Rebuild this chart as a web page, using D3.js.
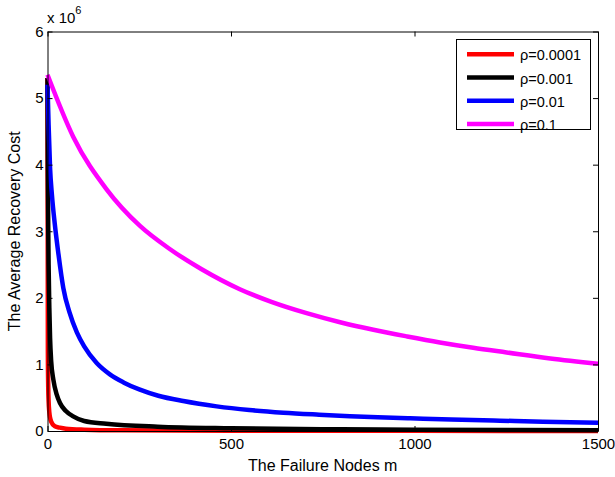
<!DOCTYPE html>
<html>
<head>
<meta charset="utf-8">
<script src="https://cdn.jsdelivr.net/npm/d3@7"></script>
<style>
  body { margin: 0; background: #fff; }
  svg { font-family: "Liberation Sans", Arial, sans-serif; }
</style>
</head>
<body>
<svg width="615" height="477"></svg>
<script>
const svg = d3.select("svg");

// data (values in units of 10^6)
const xTicks = [0, 500, 1000, 1500];
const yTicks = [0, 1, 2, 3, 4, 5, 6];
const seriesNames = ["ρ=0.0001", "ρ=0.001", "ρ=0.01", "ρ=0.1"];
const seriesColors = ["#ff0000", "#000000", "#0000ff", "#ff00ff"];

const redData = [
  [0, 5.3], [1, 1.2], [2, 0.65], [3, 0.45], [5, 0.28], [7, 0.2], [10, 0.14],
  [20, 0.07], [34, 0.05], [50, 0.035], [100, 0.02], [200, 0.01], [500, 0.004],
  [1000, 0.002], [1500, 0.0015]
];
const blackData = [
  [0, 5.3], [1, 3.9], [2, 3.05], [3, 2.5], [5, 1.85], [7, 1.4], [10, 1.05],
  [16, 0.77], [25, 0.55], [34, 0.42], [50, 0.3], [70, 0.22], [100, 0.15],
  [160, 0.11], [300, 0.065], [500, 0.04], [800, 0.025], [1000, 0.02], [1500, 0.012]
];
const blueData = [
  [0, 5.2], [3, 4.6], [7, 3.95], [12, 3.55], [20, 3.1], [30, 2.65], [43, 2.15],
  [60, 1.78], [80, 1.48], [100, 1.27], [134, 1.02], [170, 0.85], [207, 0.73],
  [250, 0.625], [302, 0.53], [370, 0.45], [461, 0.37], [550, 0.315], [643, 0.275],
  [740, 0.245], [824, 0.222], [900, 0.205], [988, 0.19], [1100, 0.172],
  [1233, 0.155], [1350, 0.14], [1500, 0.125]
];
const magentaData = [
  [0, 5.35], [70, 4.42], [161, 3.63], [252, 3.08], [334, 2.73], [420, 2.43],
  [524, 2.13], [610, 1.94], [706, 1.77], [800, 1.63], [888, 1.52], [980, 1.42],
  [1069, 1.33], [1160, 1.25], [1251, 1.18], [1370, 1.09], [1500, 1.01]
];
const allSeries = [redData, blackData, blueData, magentaData];

const plotLeft = 47.5, plotRight = 598, plotTop = 31.5, plotBottom = 431;

const xScale = d3.scaleLinear().domain([0, 1500]).range([plotLeft, plotRight]);
const yScale = d3.scaleLinear().domain([0, 6]).range([plotBottom, plotTop]);

// curves
const line = d3.line()
  .x((d) => xScale(d[0]))
  .y((d) => yScale(d[1]))
  .curve(d3.curveMonotoneX);

svg.append("g")
  .selectAll("path")
  .data(allSeries)
  .enter()
  .append("path")
  .attr("d", line)
  .attr("fill", "none")
  .attr("stroke", (d, i) => seriesColors[i])
  .attr("stroke-width", 4.5)
  .attr("stroke-linejoin", "round");

// axes, matlab style: box with inward ticks
const tickFmt = d3.format("d");
svg.append("g")
  .attr("transform", `translate(0,${plotBottom})`)
  .call(d3.axisBottom(xScale).tickValues(xTicks).tickSizeInner(-5).tickSizeOuter(0).tickPadding(7).tickFormat(tickFmt));
svg.append("g")
  .attr("transform", `translate(0,${plotTop})`)
  .call(d3.axisTop(xScale).tickValues(xTicks).tickSizeInner(-5).tickSizeOuter(0).tickFormat(""));
svg.append("g")
  .attr("transform", `translate(${plotLeft},0)`)
  .call(d3.axisLeft(yScale).tickValues(yTicks).tickSizeInner(-5).tickSizeOuter(0).tickPadding(4).tickFormat(tickFmt));
svg.append("g")
  .attr("transform", `translate(${plotRight},0)`)
  .call(d3.axisRight(yScale).tickValues(yTicks).tickSizeInner(-5).tickSizeOuter(0).tickFormat(""));

svg.selectAll(".domain").attr("stroke", "#000");
svg.selectAll(".tick line").attr("stroke", "#000");
svg.selectAll(".tick text")
  .attr("font-size", 15)
  .attr("font-family", "Liberation Sans, Arial, sans-serif")
  .attr("fill", "#000");

// exponent label
const expo = svg.append("text")
  .attr("x", 47)
  .attr("y", 23)
  .attr("font-size", 15);
expo.append("tspan").text("x 10");
expo.append("tspan").attr("dy", -9).attr("font-size", 11).text("6");

// axis titles
svg.append("text")
  .attr("x", (plotLeft + plotRight) / 2)
  .attr("y", 471)
  .attr("text-anchor", "middle")
  .attr("font-size", 16)
  .text("The Failure Nodes m");

svg.append("text")
  .attr("transform", `translate(20,${(plotTop + plotBottom) / 2}) rotate(-90)`)
  .attr("text-anchor", "middle")
  .attr("font-size", 16)
  .text("The Average Recovery Cost");

// legend
const legend = svg.append("g");
legend.append("rect")
  .attr("x", 456.5)
  .attr("y", 39.5)
  .attr("width", 134)
  .attr("height", 90)
  .attr("fill", "#fff")
  .attr("stroke", "#000");

const rows = legend.selectAll("g.row")
  .data(seriesNames)
  .enter()
  .append("g")
  .attr("transform", (d, i) => `translate(0,${54.3 + i * 23.2})`);

rows.append("line")
  .attr("x1", 467)
  .attr("x2", 514)
  .attr("stroke", (d, i) => seriesColors[i])
  .attr("stroke-width", 4.5);

rows.append("text")
  .attr("x", 520)
  .attr("y", 6)
  .attr("font-size", 14.5)
  .text((d) => d);
</script>
</body>
</html>
